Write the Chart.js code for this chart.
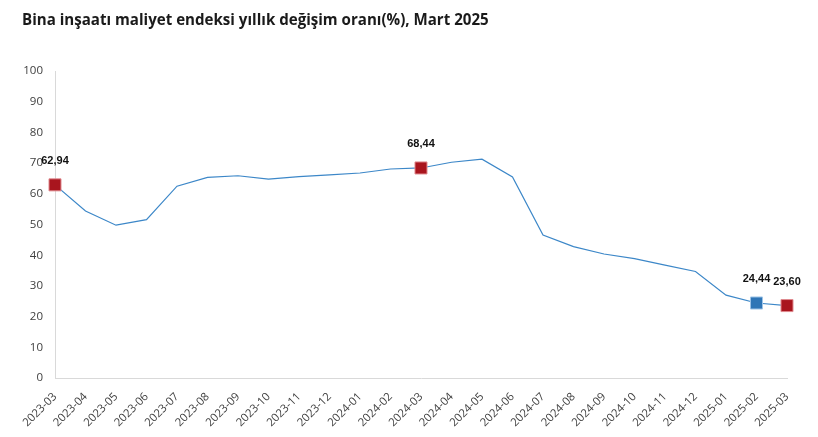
<!DOCTYPE html>
<html>
<head>
<meta charset="utf-8">
<script src="https://cdn.jsdelivr.net/npm/chart.js@4"></script>
<style>
  html, body { margin: 0; padding: 0; background: #fff; }
  #wrap { width: 818px; height: 437px; }
</style>
</head>
<body>
<div id="wrap"><canvas id="myChart"></canvas></div>
<script>
const labels = [
    '2023-03', '2023-04', '2023-05', '2023-06', '2023-07', '2023-08', '2023-09',
    '2023-10', '2023-11', '2023-12', '2024-01', '2024-02', '2024-03', '2024-04',
    '2024-05', '2024-06', '2024-07', '2024-08', '2024-09', '2024-10', '2024-11',
    '2024-12', '2025-01', '2025-02', '2025-03'
]

const values = [
    62.94, 54.4, 49.8, 51.6, 62.5, 65.4, 65.9, 64.8, 65.6, 66.2, 66.8, 68.1, 68.44,
    70.3, 71.3, 65.5, 46.6, 42.8, 40.4, 38.9, 36.8, 34.7, 27.0, 24.44, 23.60
]

// which points get a marker + value label
const highlighted = ['2023-03', '2024-03', '2025-02', '2025-03']
const markerColors = { '2025-02': '#2E75B6' }

const yTicks = [0, 10, 20, 30, 40, 50, 60, 70, 80, 90, 100]

const red = '#A9151E'

const pointRadius = labels.map(l => highlighted.includes(l) ? 8.5 : 0)
const pointBg = labels.map(l => markerColors[l] || red)
const pointBorder = labels.map(l => markerColors[l] ? '#9DC3E6' : '#E08A8F')

// draws "62,94" style labels above the highlighted points
const valueLabels = {
    id: 'valueLabels',
    afterDatasetsDraw(chart) {
        const ctx = chart.ctx;
        const meta = chart.getDatasetMeta(0);
        ctx.save();
        ctx.font = 'bold 11px "Liberation Sans", Arial, sans-serif';
        ctx.fillStyle = '#111';
        ctx.textAlign = 'center';
        ctx.textBaseline = 'middle';
        meta.data.forEach((pt, i) => {
            if (!highlighted.includes(labels[i])) return;
            const txt = values[i].toFixed(2).replace('.', ',');
            ctx.fillText(txt, pt.x, pt.y - 24);
        });
        ctx.restore();
    }
}

const ctx = document.getElementById('myChart').getContext('2d');
const myChart = new Chart(ctx, {
    type: 'line',
    data: {
        labels,
        datasets: [{
            data: values,
            borderColor: '#3C87C8',
            borderWidth: 1.2,
            tension: 0,
            pointStyle: 'rect',
            pointRadius: pointRadius,
            pointHoverRadius: pointRadius,
            pointBackgroundColor: pointBg,
            pointBorderColor: pointBorder,
            pointBorderWidth: 1,
            clip: false,
        }]
    },
    options: {
        responsive: true,
        maintainAspectRatio: false,
        animation: false,
        layout: {
            padding: { left: 22, right: 31, top: 0, bottom: 0 }
        },
        plugins: {
            legend: { display: false },
            tooltip: { enabled: false },
            title: {
                display: true,
                align: 'start',
                text: 'Bina inşaatı maliyet endeksi yıllık değişim oranı(%), Mart 2025',
                color: '#1a1a1a',
                font: { family: '"Open Sans", "Noto Sans", sans-serif', size: 15.1, weight: 'bold' },
                padding: { top: 12, bottom: 41 },
            },
        },
        scales: {
            x: {
                offset: false,
                grid: { display: false },
                border: { display: true, color: '#D9D9D9', width: 1 },
                ticks: {
                    color: '#404040',
                    font: { family: '"Open Sans", "Noto Sans", sans-serif', size: 11.3 },
                    maxRotation: 45,
                    minRotation: 45,
                    autoSkip: false,
                    padding: 4,
                },
                afterFit(scale) { scale.height = 59; },
            },
            y: {
                min: 0,
                max: 100,
                afterBuildTicks(scale) { scale.ticks = yTicks.map(v => ({ value: v })); },
                grid: { display: false },
                border: { display: true, color: '#D9D9D9', width: 1 },
                ticks: {
                    color: '#404040',
                    font: { family: '"Open Sans", "Noto Sans", sans-serif', size: 11.5 },
                    padding: 4,
                },
                afterFit(scale) { scale.width = 33; },
            }
        }
    },
    plugins: [valueLabels]
});
</script>
</body>
</html>
